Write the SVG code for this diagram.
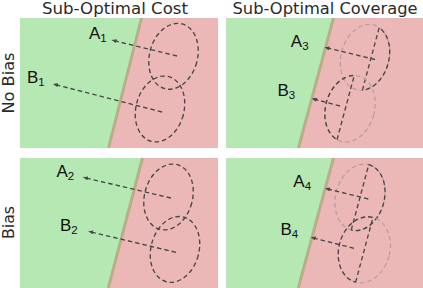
<svg xmlns="http://www.w3.org/2000/svg" width="423" height="288" viewBox="0 0 423 288">
<style>
.title{font-family:"DejaVu Sans",Verdana,sans-serif;font-size:15px;fill:#2a2a2a;text-anchor:middle}
.lbl{font-family:"Liberation Sans",Arial,sans-serif;font-size:17px;fill:#111}
.sub{font-size:11.5px}
.green{fill:#b6e8b4}
.red{fill:#ebb8b7}
.bound{stroke:#c3a98a;stroke-width:3;fill:none}
.dk{fill:none;stroke:#484848;stroke-width:1.35;stroke-dasharray:4.5 3}
.lt{fill:none;stroke:#b89c9c;stroke-width:1.2;stroke-dasharray:4.5 3}
.arr{fill:none;stroke:#484848;stroke-width:1.35;stroke-dasharray:4.5 3;marker-end:url(#ah)}
</style>
<defs>
<marker id="ah" markerUnits="userSpaceOnUse" markerWidth="5" markerHeight="4" viewBox="0 0 5 4" refX="5" refY="2" orient="auto">
<path d="M0,0 L5,2 L0,4 z" fill="#484848"/>
</marker>
</defs>
<rect width="423" height="288" fill="#ffffff"/>
<g id="titles">
<text class="title" x="115" y="14" textLength="146" lengthAdjust="spacingAndGlyphs">Sub-Optimal Cost</text>
<text class="title" x="325" y="14" textLength="185" lengthAdjust="spacingAndGlyphs">Sub-Optimal Coverage</text>
<text class="title" transform="translate(14 83) rotate(-90)" textLength="61" lengthAdjust="spacingAndGlyphs">No Bias</text>
<text class="title" transform="translate(14 222.5) rotate(-90)" textLength="33" lengthAdjust="spacingAndGlyphs">Bias</text>
</g>
<g id="backgrounds">
<polygon class="green" points="20,18 141.5,18 108.5,148 20,148"/>
<polygon class="red" points="141.5,18 218,18 218,148 108.5,148"/>
<line class="bound" x1="141.5" y1="18" x2="108.5" y2="148"/>
<polygon class="green" points="20,158 142.5,158 108.3,288 20,288"/>
<polygon class="red" points="142.5,158 218,158 218,288 108.3,288"/>
<line class="bound" x1="142.5" y1="158" x2="108.3" y2="288"/>
<polygon class="green" points="226,18 333.5,18 298.5,148 226,148"/>
<polygon class="red" points="333.5,18 423,18 423,148 298.5,148"/>
<line class="bound" x1="333.5" y1="18" x2="298.5" y2="148"/>
<polygon class="green" points="226,158 333.5,158 298.3,288 226,288"/>
<polygon class="red" points="333.5,158 423,158 423,288 298.3,288"/>
<line class="bound" x1="333.5" y1="158" x2="298.3" y2="288"/>
</g>
<g id="A1">
<ellipse class="dk" cx="173.5" cy="56.3" rx="24" ry="33.5" transform="rotate(15 173.5 56.3)"/>
<text class="lbl" x="89" y="39">A<tspan class="sub" dy="3">1</tspan></text>
</g>
<g id="B1">
<ellipse class="dk" cx="160" cy="109" rx="24" ry="33.5" transform="rotate(15 160 109)"/>
<text class="lbl" x="27" y="83.3">B<tspan class="sub" dy="3">1</tspan></text>
</g>
<g id="A2">
<ellipse class="dk" cx="168.5" cy="197" rx="24" ry="33.5" transform="rotate(15 168.5 197)"/>
<text class="lbl" x="56.5" y="177.3">A<tspan class="sub" dy="3">2</tspan></text>
</g>
<g id="B2">
<ellipse class="dk" cx="175" cy="249.4" rx="24" ry="33.5" transform="rotate(15 175 249.4)"/>
<text class="lbl" x="60" y="230.7">B<tspan class="sub" dy="3">2</tspan></text>
</g>
<g id="A3">
<ellipse class="lt" cx="365" cy="57.3" rx="24" ry="33.5" transform="rotate(15 365 57.3)"/>
<path class="dk" d="M362.4,90.15 L379.2,27.55 A24 33.5 15 0 1 362.4,90.15"/>
<text class="lbl" x="290.8" y="46.7">A<tspan class="sub" dy="3">3</tspan></text>
</g>
<g id="B3">
<ellipse class="lt" cx="350" cy="108.7" rx="24.5" ry="33.8" transform="rotate(15 350 108.7)"/>
<path class="dk" d="M337.05,139.6 L354.25,75.46 A24.5 33.8 15 0 0 337.05,139.6"/>
<text class="lbl" x="277.5" y="96">B<tspan class="sub" dy="3">3</tspan></text>
</g>
<g id="A4">
<ellipse class="lt" cx="360" cy="197.3" rx="24.3" ry="33.8" transform="rotate(15 360 197.3)"/>
<path class="dk" d="M351.25,229.95 L368.75,164.65 A24.3 33.8 15 0 1 351.25,229.95"/>
<text class="lbl" x="293.3" y="186.7">A<tspan class="sub" dy="3">4</tspan></text>
</g>
<g id="B4">
<ellipse class="lt" cx="364.3" cy="249.8" rx="25.5" ry="33.5" transform="rotate(15 364.3 249.8)"/>
<path class="dk" d="M355.62,282.16 L372.98,217.44 A25.5 33.5 15 0 0 355.62,282.16"/>
<text class="lbl" x="280.5" y="234.7">B<tspan class="sub" dy="3">4</tspan></text>
</g>
<g id="connectors">
<path class="arr" d="M177,56 L111.5,40"/>
<path class="arr" d="M162,112 L53,84"/>
<path class="arr" d="M171,198 L83,177.3"/>
<path class="arr" d="M176,252.3 L88.3,231.3"/>
<path class="arr" d="M375,59.5 L324.5,47.3"/>
<path class="arr" d="M340,106 L311.7,98.5"/>
<path class="arr" d="M368.3,199 L325,188.3"/>
<path class="arr" d="M354,248.3 L310.7,237.3"/>
</g>
</svg>
